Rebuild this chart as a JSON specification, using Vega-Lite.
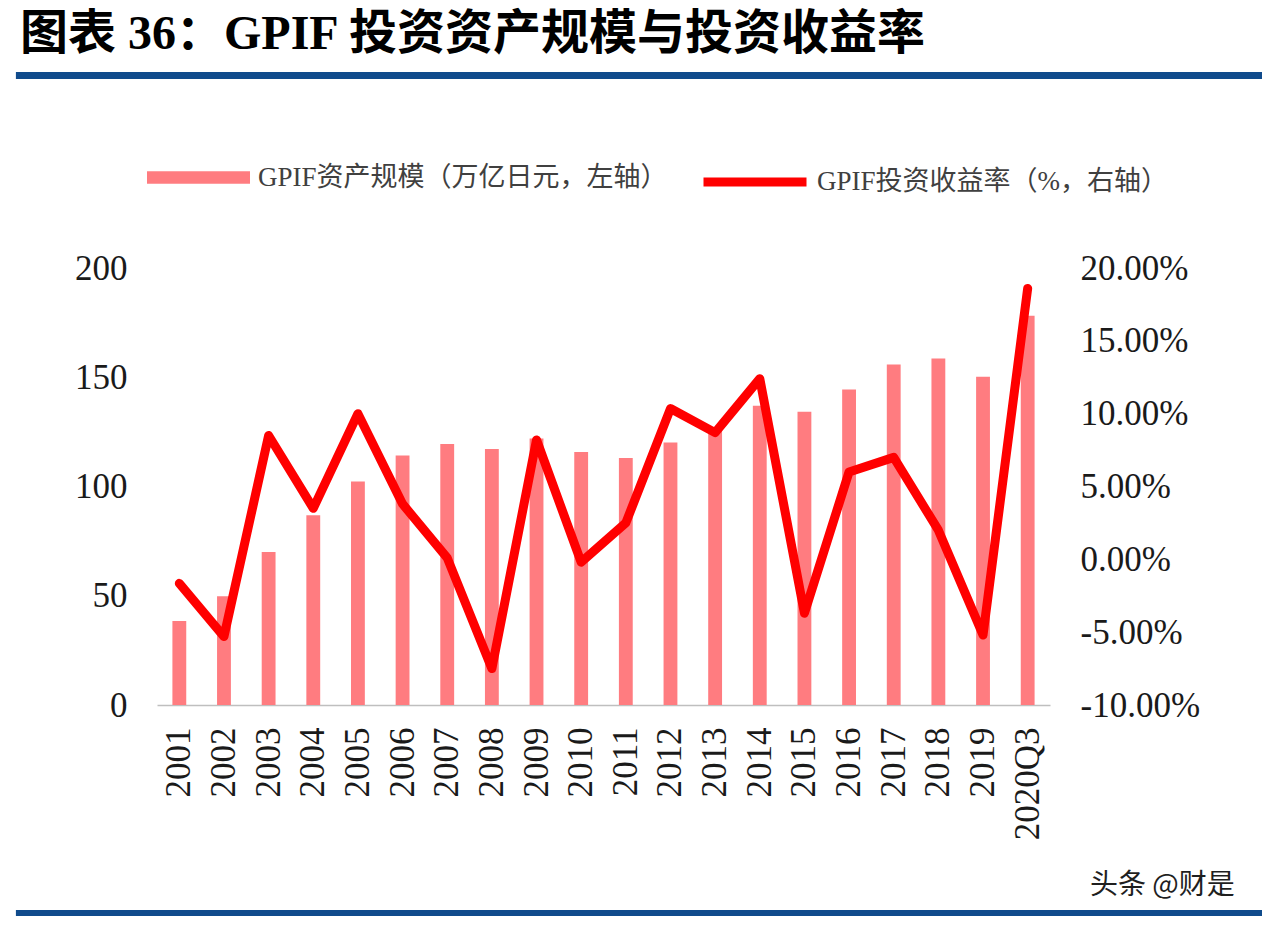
{
  "$schema": "https://vega.github.io/schema/vega-lite/v6.json",
  "width": 893,
  "height": 437,
  "autosize": {"type": "none"},
  "padding": {"left": 157, "top": 268, "right": 212, "bottom": 227},
  "background": "#FFFFFF",
  "config": {"view": {"stroke": null}},
  "title": {
    "text": "图表 36：GPIF 投资资产规模与投资收益率",
    "anchor": "start",
    "frame": "group",
    "dx": -137,
    "offset": 13,
    "font": "Liberation Serif, Noto Sans CJK SC",
    "fontSize": 48,
    "fontWeight": "bold",
    "color": "#000000"
  },
  "datasets": {
    "gpif": [
      {"period": "2001", "assets": 38.4, "ret": -1.65},
      {"period": "2002", "assets": 49.8, "ret": -5.3},
      {"period": "2003", "assets": 70.0, "ret": 8.5},
      {"period": "2004", "assets": 86.8, "ret": 3.5},
      {"period": "2005", "assets": 102.3, "ret": 10.0},
      {"period": "2006", "assets": 114.2, "ret": 3.8},
      {"period": "2007", "assets": 119.5, "ret": 0.1},
      {"period": "2008", "assets": 117.2, "ret": -7.5},
      {"period": "2009", "assets": 122.0, "ret": 8.2},
      {"period": "2010", "assets": 115.8, "ret": -0.2},
      {"period": "2011", "assets": 113.1, "ret": 2.5},
      {"period": "2012", "assets": 120.1, "ret": 10.35},
      {"period": "2013", "assets": 126.0, "ret": 8.7},
      {"period": "2014", "assets": 137.0, "ret": 12.4},
      {"period": "2015", "assets": 134.2, "ret": -3.7},
      {"period": "2016", "assets": 144.4, "ret": 6.0},
      {"period": "2017", "assets": 155.8, "ret": 7.0},
      {"period": "2018", "assets": 158.6, "ret": 2.0},
      {"period": "2019", "assets": 150.2, "ret": -5.2},
      {"period": "2020Q3", "assets": 178.1, "ret": 18.6}
    ]
  },
  "layer": [
    {
      "data": {"name": "gpif"},
      "layer": [
        {
          "mark": {"type": "bar"},
          "encoding": {
            "x": {
              "field": "period", "type": "nominal", "sort": null,
              "scale": {"paddingInner": 0.69, "paddingOuter": 0.345},
              "axis": {
                "title": null, "labelAngle": -90, "labelFont": "Liberation Serif",
                "labelFontSize": 35, "labelColor": "#1a1a1a", "ticks": false,
                "labelPadding": 22, "domainColor": "#BFBFBF", "domainWidth": 1.5,
                "grid": false
              }
            },
            "y": {
              "field": "assets", "type": "quantitative",
              "scale": {"domain": [0, 200], "nice": false},
              "axis": {
                "orient": "left", "title": null, "values": [0, 50, 100, 150, 200],
                "labelFont": "Liberation Serif", "labelFontSize": 35, "labelColor": "#1a1a1a",
                "ticks": false, "domain": false, "grid": false, "labelPadding": 30
              }
            },
            "fill": {
              "datum": "GPIF资产规模（万亿日元，左轴）", "type": "nominal",
              "scale": {"range": ["#FF7C80"]},
              "legend": {
                "orient": "none", "legendX": -10, "legendY": -142, "title": null,
                "symbolType": "M-1,-0.12H1V0.12H-1Z", "symbolSize": 10609,
                "symbolStrokeWidth": 0, "labelFont": "Liberation Serif, Noto Sans CJK SC",
                "labelFontSize": 27, "labelColor": "#404040", "labelOffset": 8,
                "labelLimit": 600, "padding": 0
              }
            }
          }
        },
        {
          "mark": {"type": "line", "strokeWidth": 9, "strokeJoin": "round", "strokeCap": "round"},
          "encoding": {
            "x": {"field": "period", "type": "nominal", "sort": null},
            "y": {
              "field": "ret", "type": "quantitative",
              "scale": {"domain": [-10, 20], "nice": false, "zero": false},
              "axis": {
                "orient": "right", "title": null, "values": [-10, -5, 0, 5, 10, 15, 20],
                "labelExpr": "(datum.value < 0 ? '-' : '') + format(abs(datum.value), '.2f') + '%'",
                "labelFont": "Liberation Serif", "labelFontSize": 35, "labelColor": "#1a1a1a",
                "ticks": false, "domain": false, "grid": false, "labelPadding": 30
              }
            },
            "stroke": {
              "datum": "GPIF投资收益率（%，右轴）", "type": "nominal",
              "scale": {"range": ["#FF0000"]},
              "legend": {
                "orient": "none", "legendX": 542, "legendY": -142, "title": null,
                "symbolType": "stroke", "symbolSize": 10609, "symbolStrokeWidth": 9,
                "labelFont": "Liberation Serif, Noto Sans CJK SC",
                "labelFontSize": 27, "labelColor": "#404040", "labelOffset": 6,
                "labelLimit": 600, "padding": 0
              }
            }
          }
        }
      ],
      "resolve": {"scale": {"y": "independent"}}
    },
    {
      "data": {"values": [{}]},
      "mark": {"type": "rect", "color": "#104B8C"},
      "encoding": {
        "x": {"datum": -0.158, "type": "quantitative", "scale": {"domain": [0, 1], "nice": false, "zero": false}, "axis": null},
        "x2": {"datum": 1.25},
        "y": {"datum": 1.4485, "type": "quantitative", "scale": {"domain": [0, 1], "nice": false, "zero": false}, "axis": null},
        "y2": {"datum": 1.4325}
      }
    },
    {
      "data": {"values": [{}]},
      "mark": {"type": "rect", "color": "#104B8C"},
      "encoding": {
        "x": {"datum": -0.158, "type": "quantitative", "scale": {"domain": [0, 1], "nice": false, "zero": false}, "axis": null},
        "x2": {"datum": 1.25},
        "y": {"datum": -0.4691, "type": "quantitative", "scale": {"domain": [0, 1], "nice": false, "zero": false}, "axis": null},
        "y2": {"datum": -0.4828}
      }
    },
    {
      "data": {"values": [{}]},
      "mark": {"type": "text", "text": "头条 @财是", "font": "Noto Sans CJK SC", "fontSize": 28, "align": "right", "baseline": "middle", "color": "#1f1f1f"},
      "encoding": {
        "x": {"datum": 1.207, "type": "quantitative", "scale": {"domain": [0, 1], "nice": false, "zero": false}, "axis": null},
        "y": {"datum": -0.4142, "type": "quantitative", "scale": {"domain": [0, 1], "nice": false, "zero": false}, "axis": null}
      }
    }
  ],
  "resolve": {"scale": {"x": "independent", "y": "independent"}}
}
